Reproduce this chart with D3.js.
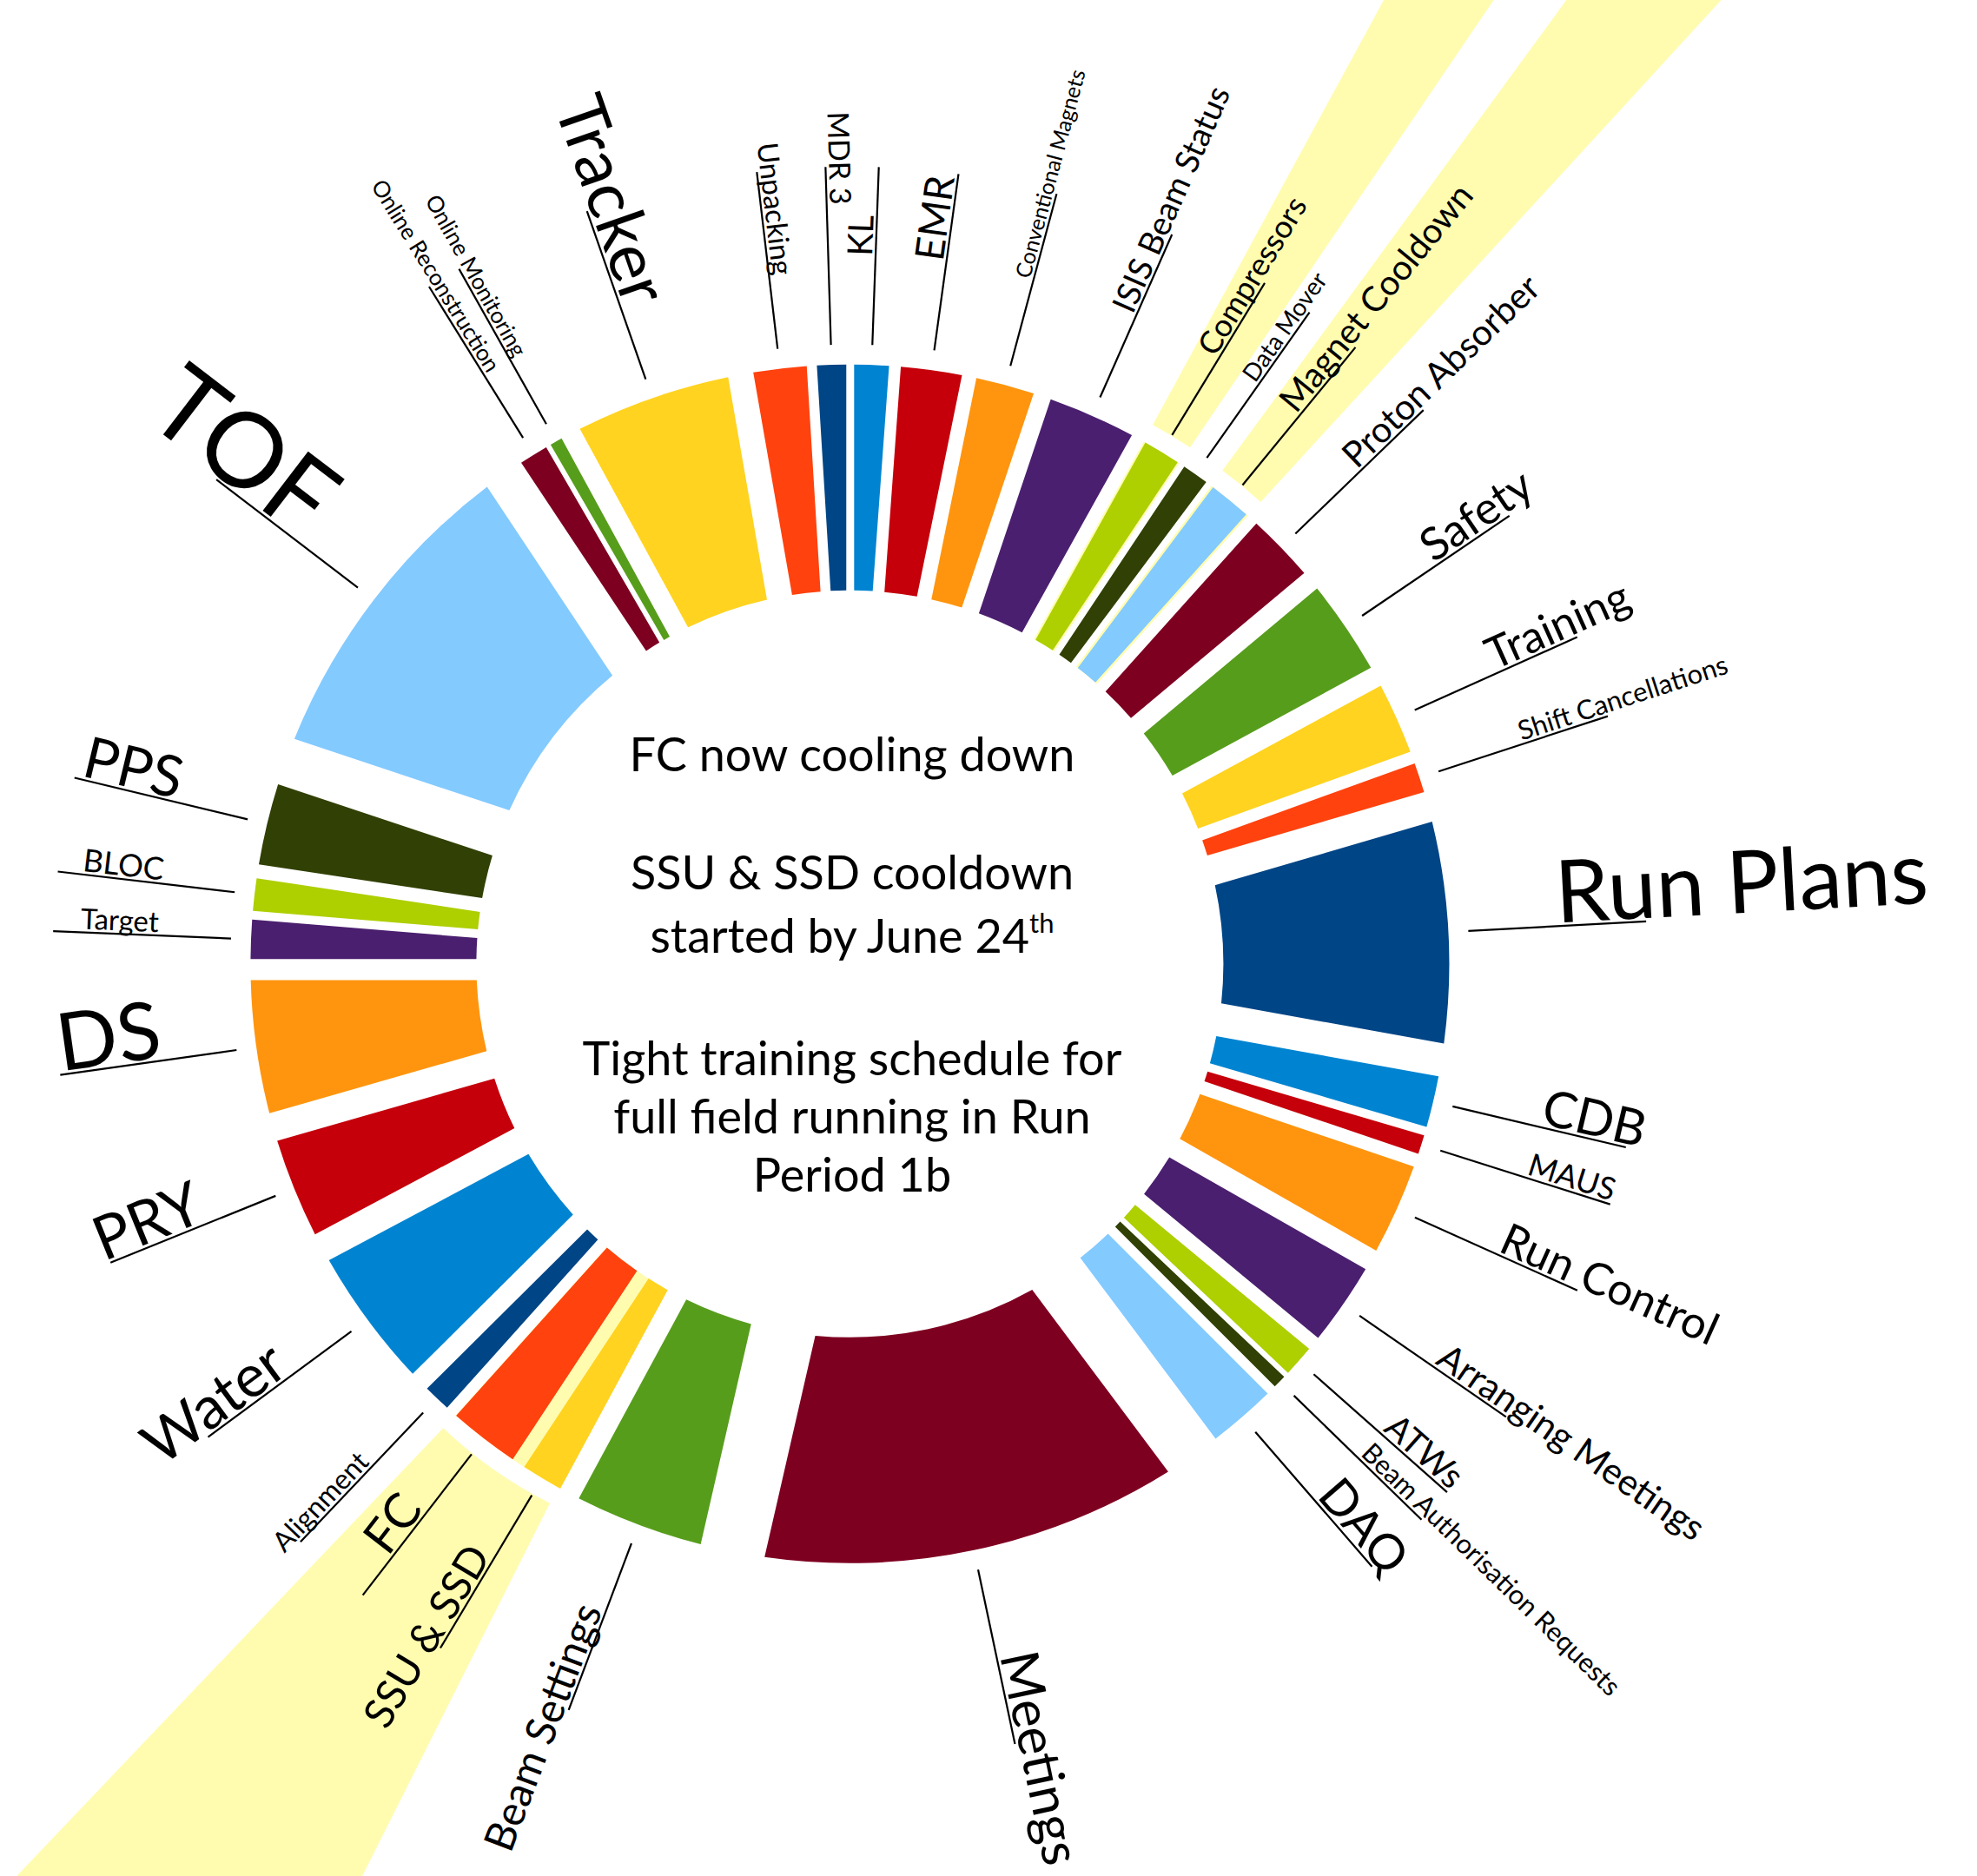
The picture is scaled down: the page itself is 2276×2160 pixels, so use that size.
<!DOCTYPE html>
<html><head><meta charset="utf-8">
<script src="https://cdn.jsdelivr.net/npm/d3@7"></script>
<style>
body{margin:0;background:#fff}
svg{display:block}
text{font-family:Lato,"Open Sans","Noto Sans",sans-serif;fill:#000}
</style>
</head><body>
<svg id="chart" width="2276" height="2160"></svg>
<script>
// ---- data, counter-clockwise from 12 o'clock ----
const categories = ["MDR 3","Unpacking","Tracker","Online Monitoring","Online Reconstruction","TOF","PPS","BLOC","Target","DS","PRY","Water","Alignment","FC","SSU & SSD","Beam Settings","Meetings","DAQ","Beam Authorisation Requests","ATWs","Arranging Meetings","Run Control","MAUS","CDB","Run Plans","Shift Cancellations","Training","Safety","Proton Absorber","Magnet Cooldown","Data Mover","Compressors","ISIS Beam Status","Conventional Magnets","EMR","KL"];
const shares = [3.5,6.4,18.7,1.5,3.5,38.0,9.8,3.9,4.7,16.0,12.0,16.8,3.3,8.5,5.0,15.5,49.7,8.2,1.6,3.8,9.95,10.95,2.3,6.2,26.5,3.6,8.6,11.4,8.2,5.1,3.2,4.5,10.55,7.05,7.34,4.16];
const emphasis = [3.4,3.3,7.8,2.6,2.6,12.0,6.6,3.6,3.3,9.2,7.0,6.8,3.2,5.6,4.8,4.8,6.1,5.6,3.1,4.0,4.2,5.1,3.6,5.8,10.0,3.1,5.1,5.2,4.1,4.0,2.8,3.6,3.8,2.5,4.6,4.0];
const highlightGroups = [["Compressors"],["Magnet Cooldown"],["FC","SSU & SSD"]];
const palette = ["#004586","#ff420e","#ffd320","#579d1c","#7e0021","#83caff","#314004","#aecf00","#4b1f6f","#ff950e","#c5000b","#0084d1"];
const centerLines = ["FC now cooling down","SSU & SSD cooldown","started by June 24","Tight training schedule for","full field running in Run","Period 1b"];

// ---- layout ----
const W = 2276, H = 2160;
const cx = 978.4, cy = 1109.8;
const rIn = 430, rOut = 690, explode = 135;
const beamStart = 712, beamShift = 200, beamWiden = 1.25;
const lineR0 = 713, lineR1 = 918, textRRight = 815, textRLeft = 797;

const svg = d3.select("#chart");
const rows = categories.map((c,i) => ({name:c, v:shares[i], emph:emphasis[i]}));
const pie = d3.pie().sort(null).value(d => d.v).startAngle(0).endAngle(-2*Math.PI);
const arcs = pie(rows);
const color = d3.scaleOrdinal().domain(categories).range(palette);
const fontScale = d3.scaleLinear().domain([0,10]).range([0,100]);
const mid = d => (d.startAngle + d.endAngle)/2;
const pt = (a, r) => [r*Math.sin(a), -r*Math.cos(a)];

const g = svg.append("g").attr("transform", `translate(${cx},${cy})`);

// highlight beams: a pale wedge inside the ring, and an exploded wedge beyond it
const beams = highlightGroups.map(grp => {
  const sel = arcs.filter(a => grp.includes(a.data.name));
  return {startAngle:d3.max(sel, a => a.startAngle), endAngle:d3.min(sel, a => a.endAngle)};
});
const beamInner = d3.arc().innerRadius(rIn).outerRadius(rOut)
  .padRadius(explode*0.6).padAngle(d => Math.abs(d.endAngle - d.startAngle));
const beamOuter = d3.arc().innerRadius(beamStart - beamShift).outerRadius(3600)
  .startAngle(d => mid(d) + (d.startAngle - mid(d))*beamWiden)
  .endAngle(d => mid(d) + (d.endAngle - mid(d))*beamWiden);
const beamG = g.append("g").attr("fill","#fffcb0");
beamG.selectAll("path.bi").data(beams).join("path").attr("class","bi").attr("d", beamInner);
beamG.selectAll("path.bo").data(beams).join("path").attr("class","bo")
  .attr("transform", d => { const p = pt(mid(d), beamShift); return `translate(${p[0]},${p[1]})`; })
  .attr("d", beamOuter);

// slices (exploded look: edges offset in parallel by explode*sin(half-angle))
const arc = d3.arc().innerRadius(rIn).outerRadius(rOut)
  .padRadius(explode).padAngle(d => Math.abs(d.endAngle - d.startAngle));
g.append("g").selectAll("path").data(arcs).join("path")
  .attr("d", arc).attr("fill", d => color(d.data.name));

// leader lines and labels
const isRight = d => Math.sin(mid(d)) > 0;
g.append("g").attr("stroke","#000").attr("stroke-width",2.2)
  .selectAll("line").data(arcs).join("line")
  .attr("x1", d => pt(mid(d), lineR0)[0]).attr("y1", d => pt(mid(d), lineR0)[1])
  .attr("x2", d => pt(mid(d), lineR1)[0]).attr("y2", d => pt(mid(d), lineR1)[1]);

const labels = g.append("g").selectAll("text").data(arcs).join("text")
  .attr("text-anchor", d => isRight(d) ? "start" : "end")
  .attr("dy", -4)
  .attr("font-size", d => fontScale(d.data.emph))
  .text(d => d.data.name);

// where a left-reading label sits next to a right-reading one at 12 o'clock,
// push it out beyond its neighbour
const lens = [];
labels.each(function(d,i){ lens[i] = this.getComputedTextLength(); });
const radius = arcs.map(d => isRight(d) ? textRRight : textRLeft);
arcs.forEach((d,i) => {
  if (isRight(d)) return;
  const n = arcs.length;
  [(i+1)%n, (i-1+n)%n].forEach(j => {
    const o = arcs[j];
    const sep = Math.abs(Math.sin((mid(d) - mid(o))/2))*2;
    if (isRight(o) && sep < 0.08 && Math.cos(mid(d)) > 0)
      radius[i] = Math.max(radius[i], textRRight + lens[j] + 12);
  });
});
labels.attr("transform", (d,i) => {
  const a = mid(d), deg = a*180/Math.PI - 90, p = pt(a, radius[i]);
  return `translate(${p[0]},${p[1]}) rotate(${isRight(d) ? deg : deg+180})`;
});

// centre text
const ct = svg.append("g").attr("text-anchor","middle").attr("font-size",54);
const ys = [888,1024,1097,1238,1305,1372];
centerLines.forEach((t,i) => {
  const el = ct.append("text").attr("x",981).attr("y",ys[i]).text(t);
  if (i === 2) el.append("tspan").attr("font-size",31).attr("dy",-23).text("th");
});
</script>
</body></html>
